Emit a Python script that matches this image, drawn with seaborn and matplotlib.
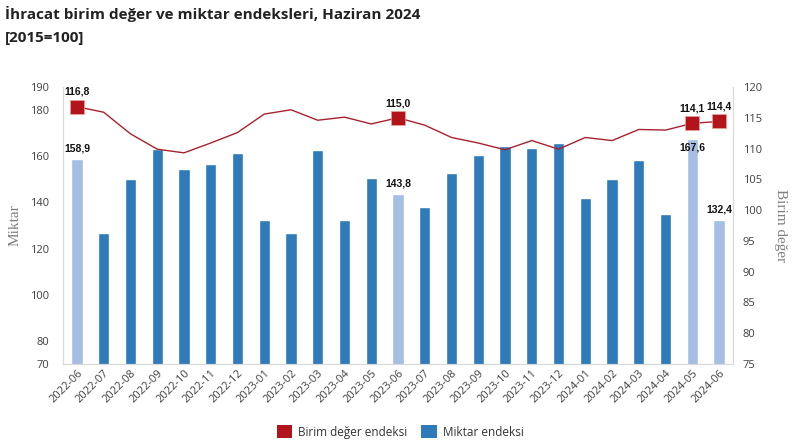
import numpy as np
import pandas as pd
import matplotlib
matplotlib.use("Agg")
import matplotlib.pyplot as plt
import seaborn as sns
from matplotlib.patches import Patch

months = ["2022-06", "2022-07", "2022-08", "2022-09", "2022-10", "2022-11", "2022-12",
          "2023-01", "2023-02", "2023-03", "2023-04", "2023-05", "2023-06", "2023-07",
          "2023-08", "2023-09", "2023-10", "2023-11", "2023-12", "2024-01", "2024-02",
          "2024-03", "2024-04", "2024-05", "2024-06"]
miktar = [158.9, 126.7, 150.1, 163.0, 154.5, 156.5, 161.3, 132.4, 126.6, 162.7, 132.4,
          150.4, 143.8, 137.9, 152.7, 160.4, 164.6, 163.4, 165.7, 141.9, 150.0, 158.2,
          135.0, 167.6, 132.4]
birim = [116.8, 115.9, 112.4, 109.9, 109.3, 110.9, 112.6, 115.6, 116.3, 114.6, 115.1,
         114.0, 115.0, 113.8, 111.8, 110.9, 109.8, 111.3, 109.9, 111.8, 111.3, 113.1,
         113.0, 114.1, 114.4]
highlight = ["2022-06", "2023-06", "2024-05", "2024-06"]
left_ticks = [70, 80, 100, 120, 140, 160, 180, 190]
right_ticks = [75, 80, 85, 90, 95, 100, 105, 110, 115, 120]

title1 = "İhracat birim değer ve miktar endeksleri, Haziran 2024"
title2 = "[2015=100]"

DARK = "#2f7ab9"
LIGHT = "#a6bee4"
RED_LINE = "#a8212f"
RED_MK = "#b3141c"

sns.set_theme(style="white")
plt.rcParams["font.family"] = ["Open Sans", "DejaVu Sans"]

df = pd.DataFrame({"month": months, "miktar": miktar, "birim": birim})
df["idx"] = np.arange(len(df))
df["hl"] = df["month"].isin(highlight)
colors = [LIGHT if h else DARK for h in df["hl"]]

fig = plt.figure(figsize=(7.93, 4.47), dpi=100)
ax = fig.add_axes([63/793, 1-364/447, (733-63)/793, (364-87)/447])

sns.barplot(data=df, x="month", y="miktar", hue="month", palette=colors,
            legend=False, width=0.42, ax=ax, saturation=1)
ax.set_ylim(70, 190)
ax.set_yticks(left_ticks)
ax.set_xlim(-0.52, len(months) - 0.48)
ax.set_xlabel("")
ax.set_ylabel("Miktar", family="Liberation Serif", fontsize=11, color="#7f7f7f")
ax.yaxis.set_label_coords((22-63)/670, 0.5)

ax2 = ax.twinx()
sns.lineplot(data=df, x="idx", y="birim", color=RED_LINE, linewidth=1.0, ax=ax2)
hdf = df[df["hl"]]
ax2.scatter(hdf["idx"], hdf["birim"], marker="s", s=110, color=RED_MK, zorder=5,
            edgecolors="#e8a0a0", linewidths=0.5)
ax2.set_ylim(75, 120)
ax2.set_yticks(right_ticks)
ax2.set_xlim(-0.52, len(months) - 0.48)
ax2.set_ylabel("Birim değer", family="Liberation Serif", fontsize=11, color="#7f7f7f",
               rotation=-90, va="center")
ax2.yaxis.set_label_coords((780-63)/670, 0.5)
ax2.set_xlabel("")

for a in (ax, ax2):
    for s in a.spines.values():
        s.set_color("#d9d9d9")
        s.set_linewidth(0.8)
    a.spines["top"].set_visible(False)
    a.tick_params(length=0, labelsize=8, labelcolor="#404040")

ax.tick_params(axis="y", pad=10)
ax2.tick_params(axis="y", pad=7)
ax.set_xticks(range(len(months)))
ax.set_xticklabels(months, rotation=45, ha="right", rotation_mode="anchor", fontsize=8)
ax.tick_params(axis="x", pad=3)

lab = dict(family="Liberation Sans", fontweight="bold", fontsize=7.5, color="#111111",
           ha="center")
for _, r in hdf.iterrows():
    ax2.annotate(f"{r['birim']:.1f}".replace(".", ","), (r["idx"], r["birim"]),
                 xytext=(0, 7), textcoords="offset points", va="bottom", **lab)
for _, r in hdf.iterrows():
    if r["month"] == "2024-05":
        ax.annotate(f"{r['miktar']:.1f}".replace(".", ","), (r["idx"], r["miktar"]),
                    xytext=(0, -3), textcoords="offset points", va="top", **lab)
    else:
        ax.annotate(f"{r['miktar']:.1f}".replace(".", ","), (r["idx"], r["miktar"]),
                    xytext=(0, 4), textcoords="offset points", va="bottom", **lab)

fig.text(5/793, 1-14/447, title1, fontsize=11, fontweight="bold", color="#222222",
         va="center", ha="left")
fig.text(5/793, 1-38/447, title2, fontsize=11, fontweight="bold", color="#222222",
         va="center", ha="left")

handles = [Patch(facecolor=RED_MK, edgecolor="none", label="Birim değer endeksi"),
           Patch(facecolor=DARK, edgecolor="none", label="Miktar endeksi")]
fig.legend(handles=handles, loc="center", bbox_to_anchor=(400/793, 1-432/447), ncol=2,
           frameon=False, fontsize=8.5, handlelength=1.3, handleheight=1.3,
           columnspacing=1.2, handletextpad=0.5, labelcolor="#333333")

fig.savefig("out.png", dpi=100)
